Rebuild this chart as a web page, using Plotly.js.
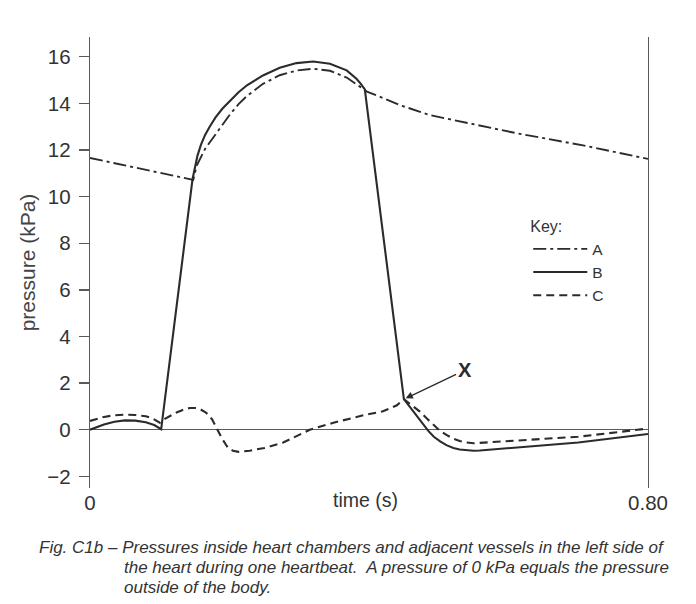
<!DOCTYPE html>
<html>
<head>
<meta charset="utf-8">
<script src="https://cdn.plot.ly/plotly-3.0.1.min.js"></script>
<style>
  html, body { margin: 0; padding: 0; background: #ffffff; }
  #chart { width: 696px; height: 604px; }
</style>
</head>
<body>
<div id="chart"></div>
<script>
// ---- data ----
const seriesNames = ["A", "B", "C"];

// A: dash-dot
const tA = [0, 0.148, 0.153, 0.159, 0.165, 0.171, 0.177, 0.189, 0.201, 0.213, 0.225, 0.248, 0.272, 0.296, 0.320, 0.344, 0.368, 0.387, 0.397, 0.416, 0.444, 0.487, 0.55, 0.612, 0.707, 0.80];
const pA = [11.66, 10.72, 11.33, 11.7, 12.05, 12.3, 12.54, 13.07, 13.54, 13.97, 14.32, 14.84, 15.21, 15.41, 15.49, 15.40, 15.11, 14.72, 14.51, 14.28, 13.93, 13.5, 13.1, 12.72, 12.2, 11.62];

// B: solid
const tB = [0, 0.02, 0.035, 0.05, 0.065, 0.08, 0.092, 0.102, 0.147, 0.150, 0.154, 0.159, 0.165, 0.172, 0.180, 0.190, 0.201, 0.213, 0.225, 0.248, 0.272, 0.296, 0.320, 0.344, 0.368, 0.382, 0.388, 0.394, 0.450, 0.458, 0.468, 0.477, 0.485, 0.493, 0.502, 0.511, 0.521, 0.530, 0.540, 0.550, 0.559, 0.63, 0.70, 0.80];
const pB = [0, 0.22, 0.34, 0.40, 0.39, 0.32, 0.2, 0.02, 10.75, 11.2, 11.75, 12.22, 12.65, 13.02, 13.4, 13.78, 14.13, 14.48, 14.78, 15.20, 15.53, 15.73, 15.80, 15.70, 15.42, 15.06, 14.85, 14.6, 1.31, 1.0, 0.64, 0.3, -0.05, -0.3, -0.5, -0.66, -0.78, -0.85, -0.89, -0.9, -0.89, -0.72, -0.55, -0.18];

// C: dashed
const tC = [0, 0.02, 0.035, 0.05, 0.065, 0.08, 0.09, 0.10, 0.105, 0.115, 0.124, 0.133, 0.143, 0.151, 0.158, 0.165, 0.170, 0.175, 0.179, 0.184, 0.189, 0.194, 0.198, 0.205, 0.213, 0.229, 0.25, 0.277, 0.315, 0.349, 0.392, 0.42, 0.44, 0.45, 0.462, 0.473, 0.483, 0.492, 0.501, 0.511, 0.52, 0.53, 0.54, 0.55, 0.62, 0.70, 0.80];
const pC = [0.38, 0.55, 0.62, 0.65, 0.63, 0.58, 0.48, 0.3, 0.43, 0.6, 0.74, 0.85, 0.93, 0.93, 0.88, 0.76, 0.64, 0.45, 0.21, -0.08, -0.36, -0.6, -0.78, -0.9, -0.95, -0.9, -0.78, -0.55, 0, 0.3, 0.62, 0.79, 1.05, 1.31, 1.05, 0.78, 0.48, 0.21, -0.03, -0.22, -0.37, -0.48, -0.55, -0.58, -0.45, -0.3, 0.05];

const yTickVals = [-2, 0, 2, 4, 6, 8, 10, 12, 14, 16];
const yTickText = ["\u22122", "0", "2", "4", "6", "8", "10", "12", "14", "16"];
const xTickVals = [0, 0.8];
const xTickText = ["0", "0.80"];

const xTitle = "time (s)";
const yTitle = "pressure (kPa)";
const keyTitle = "Key:";
const markLabel = "X";
const captionLines = [
  "Fig. C1b \u2013 Pressures inside heart chambers and adjacent vessels in the left side of",
  "the heart during one heartbeat.  A pressure of 0 kPa equals the pressure",
  "outside of the body."
];

// index of point X on curve B (end of the steep fall)
const xIdx = tB.indexOf(0.450);

// ---- styles ----
const FONT = "Liberation Sans, Arial, Helvetica, sans-serif";
const INK = "#2b2b2b";
const TEXT = "#333333";
const AXIS = "#5a5a5a";

const traces = [
  { x: tA, y: pA, name: seriesNames[0], mode: "lines", type: "scatter",
    line: { color: INK, width: 1.9, dash: "13px,4px,3px,4px" } },
  { x: tB, y: pB, name: seriesNames[1], mode: "lines", type: "scatter",
    line: { color: INK, width: 2.1 } },
  { x: tC, y: pC, name: seriesNames[2], mode: "lines", type: "scatter",
    line: { color: INK, width: 2.1, dash: "8px,5px" } }
];

const captionY = [-0.132, -0.1763, -0.2206];
const captionX = [(37 - 90) / 558, (122 - 90) / 558, (122 - 90) / 558];

const annotations = [
  { x: 0.493, y: -0.026, xref: "paper", yref: "paper", text: xTitle, showarrow: false,
    xanchor: "center", yanchor: "middle", font: { family: FONT, size: 19.5, color: TEXT } },
  { x: tB[xIdx], y: pB[xIdx], xref: "x", yref: "y",
    ax: 0.537, ay: 2.55, axref: "x", ayref: "y",
    text: "<b>" + markLabel + "</b>", showarrow: true,
    arrowhead: 2, arrowsize: 1.1, arrowwidth: 1.3, arrowcolor: INK, standoff: 2,
    font: { family: FONT, size: 20, color: INK } }
];
captionLines.forEach(function (s, i) {
  annotations.push({ x: captionX[i], y: captionY[i], xref: "paper", yref: "paper",
    text: "<i>" + s + "</i>", showarrow: false, xanchor: "left", yanchor: "middle", align: "left",
    font: { family: FONT, size: 17, color: TEXT } });
});

const layout = {
  width: 696, height: 604,
  margin: { l: 90, r: 48, t: 37, b: 116, pad: 0 },
  paper_bgcolor: "#ffffff", plot_bgcolor: "#ffffff",
  font: { family: FONT, color: TEXT, size: 20 },
  showlegend: true,
  legend: {
    x: 0.7854, y: 0.613, xanchor: "left", yanchor: "top",
    bgcolor: "rgba(0,0,0,0)", borderwidth: 0,
    itemwidth: 54,
    font: { family: FONT, size: 15.5, color: TEXT },
    title: { text: keyTitle, font: { family: FONT, size: 16, color: TEXT } },
    traceorder: "normal"
  },
  xaxis: {
    range: [0, 0.8], showgrid: false, zeroline: false, showline: false,
    ticks: "", tickvals: xTickVals, ticktext: xTickText,
    tickfont: { family: FONT, size: 20.5, color: TEXT }, fixedrange: true
  },
  yaxis: {
    range: [-2.5, 16.85], showgrid: false,
    zeroline: true, zerolinecolor: AXIS, zerolinewidth: 1.2,
    showline: true, linecolor: AXIS, linewidth: 1.3, mirror: true,
    ticks: "outside", ticklen: 10, tickwidth: 1.3, tickcolor: AXIS,
    ticklabelstandoff: 4,
    tickvals: yTickVals, ticktext: yTickText,
    tickfont: { family: FONT, size: 20.5, color: TEXT },
    title: { text: yTitle, font: { family: FONT, size: 21, color: "#444444" }, standoff: 6 },
    fixedrange: true
  },
  annotations: annotations
};

Plotly.newPlot("chart", traces, layout, { staticPlot: true, displayModeBar: false });
</script>
</body>
</html>
